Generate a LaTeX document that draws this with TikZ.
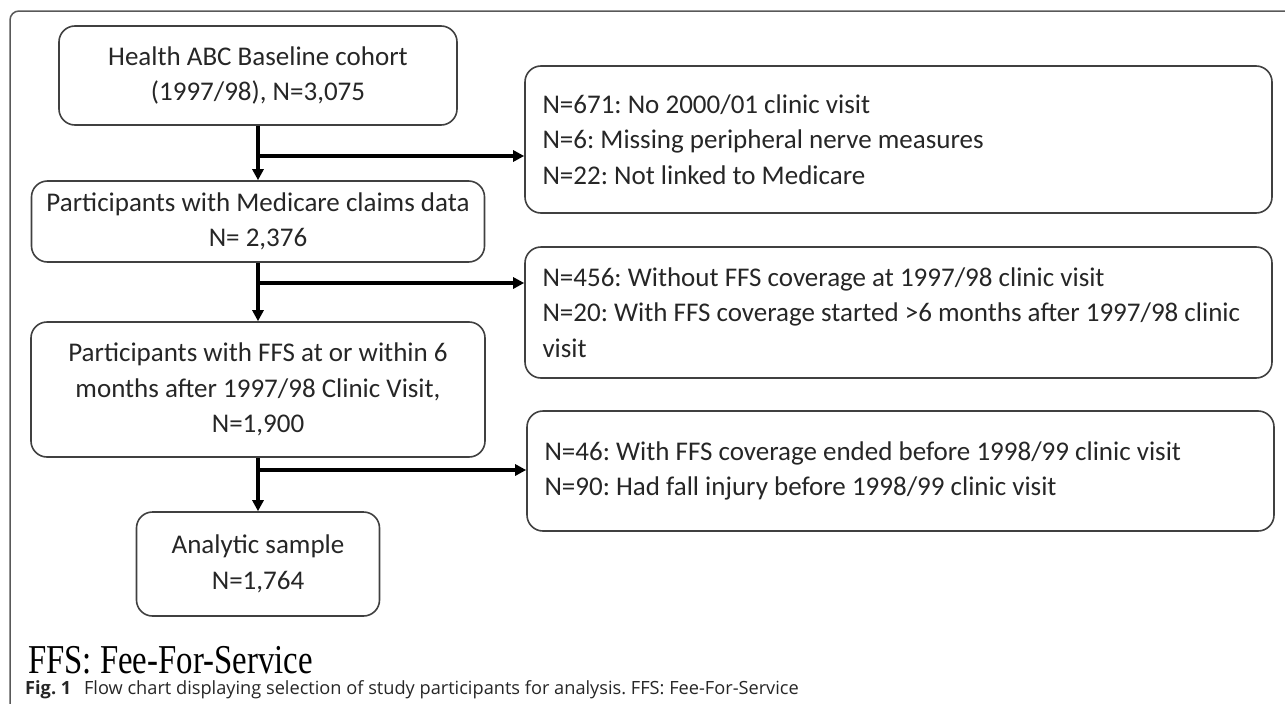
\documentclass[tikz,border=0pt]{standalone}
\usepackage{fontspec}
\setmainfont{Carlito}
\newfontfamily\legendfont[FakeStretch=0.8]{Liberation Serif}
\newfontfamily\captionfont{Open Sans}
\usetikzlibrary{arrows.meta}
\frenchspacing

\begin{document}
\begin{tikzpicture}[x=1pt,y=-1pt]
	\useasboundingbox (0,0) rectangle (1285,704);
	\draw[black!65, line width=1.5pt, rounded corners=9pt] (1295,11) -- (10,11) -- (10,708);

	\begin{scope}[every node/.style={draw=black!75, line width=1.6pt, rounded corners=16pt, inner sep=0pt, text=black!85, font=\fontsize{27}{35.5}\selectfont}]
		\node[align=center, minimum width=398pt, minimum height=99pt] (cohort) at (258,75.5) {Health ABC Baseline cohort\\(1997/98), N=3,075};
		\node[align=center, minimum width=453pt, minimum height=81pt] (medicare) at (258,221.5) {Participants with Medicare claims data\\N= 2,376};
		\node[align=center, minimum width=454pt, minimum height=135pt] (ffs) at (258,389.5) {Participants with FFS at or within 6\\months after 1997/98 Clinic Visit,\\N=1,900};
		\node[align=center, minimum width=243pt, minimum height=104pt] (sample) at (258,564) {Analytic sample\\N=1,764};

		\node[align=flush left, text width=712pt, inner xsep=17.5pt, minimum height=147pt] (excl1) at (898.5,139.5) {N=671: No 2000/01 clinic visit\\N=6: Missing peripheral nerve measures\\N=22: Not linked to Medicare};
		\node[align=flush left, text width=712pt, inner xsep=17.5pt, minimum height=131pt] (excl2) at (898.5,312.5) {N=456: Without FFS coverage at 1997/98 clinic visit\\N=20: With FFS coverage started >6 months after 1997/98 clinic\\visit};
		\node[align=flush left, text width=712pt, inner xsep=17.5pt, minimum height=120pt] (excl3) at (900.5,471) {N=46: With FFS coverage ended before 1998/99 clinic visit\\N=90: Had fall injury before 1998/99 clinic visit};
	\end{scope}

	\begin{scope}[>={Triangle[length=11pt,width=11pt]}, line width=3.5pt]
		\coordinate (j1) at (258,156);
		\coordinate (j2) at (258,283);
		\coordinate (j3) at (258,470);
		\draw[->] (cohort.south) -- (medicare.north);
		\draw[->] (medicare.south) -- (ffs.north);
		\draw[->] (ffs.south) -- (sample.north);
		\draw[->] (j1) -- (excl1.west |- j1);
		\draw[->] (j2) -- (excl2.west |- j2);
		\draw[->] (j3) -- (excl3.west |- j3);
	\end{scope}

	\node[anchor=base west, inner sep=0pt, font=\legendfont\fontsize{41}{46}\selectfont] (legend) at (28,673) {FFS: Fee-For-Service};
	\node[anchor=base west, inner sep=0pt, text=black!85, font=\captionfont\fontsize{18.2}{22}\selectfont] (caption) at (25,694) {\textbf{Fig. 1}\hspace{0.7em}Flow chart displaying selection of study participants for analysis. FFS: Fee-For-Service};
\end{tikzpicture}
\end{document}
